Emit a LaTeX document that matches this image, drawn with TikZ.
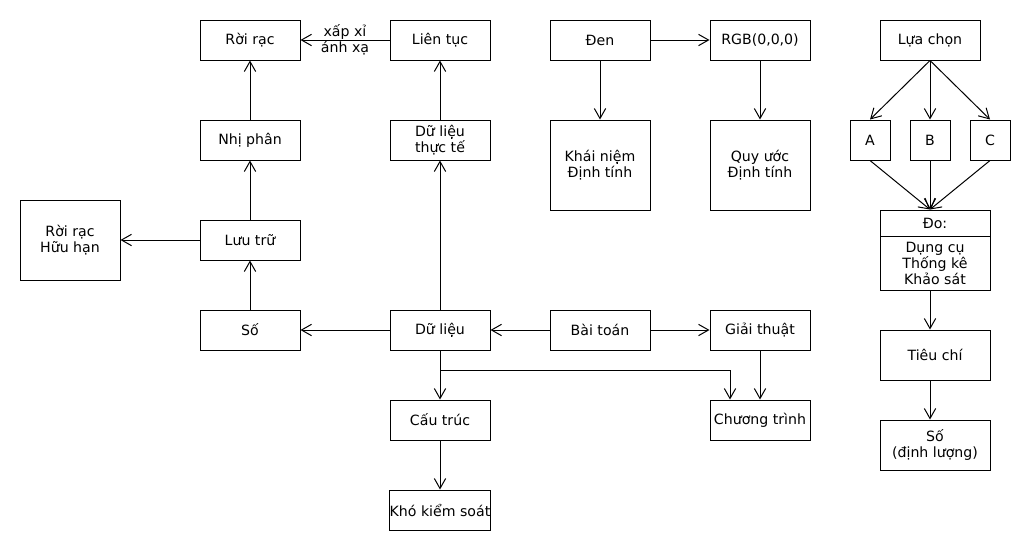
\documentclass[tikz,border=0pt]{standalone}
\usepackage{fontspec}
\setmainfont{DejaVu Sans}
\usetikzlibrary{arrows.meta}

\begin{document}
\begin{tikzpicture}[x=0.75pt, y=-0.75pt, line width=0.75pt,
    >={Straight Barb[length=7.5pt,width=8.5pt]},
    font=\fontsize{10.6}{12}\selectfont,
    box/.style={draw, minimum width=75pt, minimum height=30pt, inner sep=0pt, align=center}]
    \useasboundingbox (0,0) rectangle (1030,550);
    \node[box] (roi_rac) at (250,40) {Rời rạc};
    \node[box] (lien_tuc) at (440,40) {Liên tục};
    \node[box] (den) at (600,40) {Đen};
    \node[box] (rgb) at (760,40) {RGB(0,0,0)};
    \node[box] (lua_chon) at (930,40) {Lựa chọn};
    \node[box] (nhi_phan) at (250,140) {Nhị phân};
    \node[box] (du_lieu_tt) at (440,140) {Dữ liệu\\thực tế};
    \node[box, minimum height=67.5pt] (khai_niem) at (600,165) {Khái niệm\\Định tính};
    \node[box, minimum height=67.5pt] (quy_uoc) at (760,165) {Quy ước\\Định tính};
    \node[box, minimum width=30pt] (a) at (870,140) {A};
    \node[box, minimum width=30pt] (b) at (930,140) {B};
    \node[box, minimum width=30pt] (c) at (990,140) {C};
    \node[box, minimum height=60pt] (huu_han) at (70,240) {Rời rạc\\Hữu hạn};
    \node[box] (luu_tru) at (250,240) {Lưu trữ};
    \node[box, minimum width=82.5pt, minimum height=19.5pt] (do_head) at (935,223) {Đo:};
    \node[box, minimum width=82.5pt, minimum height=40.5pt] (do_body) at (935,263) {Dụng cụ\\Thống kê\\Khảo sát};
    \node[box] (so) at (250,330) {Số};
    \node[box] (du_lieu) at (440,330) {Dữ liệu};
    \node[box] (bai_toan) at (600,330) {Bài toán};
    \node[box] (giai_thuat) at (760,330) {Giải thuật};
    \node[box, minimum width=82.5pt, minimum height=37.5pt] (tieu_chi) at (935,355) {Tiêu chí};
    \node[box] (cau_truc) at (440,420) {Cấu trúc};
    \node[box] (chuong_trinh) at (760,420) {Chương trình};
    \node[box, minimum width=82.5pt, minimum height=37.5pt] (so_dl) at (935,445) {Số\\(định lượng)};
    \node[box] (kho) at (440,510) {Khó kiểm soát};

    % left part
    \draw[->] (lien_tuc) -- node[align=center, font=\fontsize{10.6}{10}\selectfont] (xap_xi) {xấp xỉ\\ánh xạ} (roi_rac);
    \draw[->] (nhi_phan) -- (roi_rac);
    \draw[->] (luu_tru) -- (nhi_phan);
    \draw[->] (so) -- (luu_tru);
    \draw[->] (luu_tru) -- (huu_han);
    \draw[->] (du_lieu) -- (so);
    \draw[->] (du_lieu) -- (du_lieu_tt);
    \draw[->] (du_lieu_tt) -- (lien_tuc);
    \draw[->] (bai_toan) -- (du_lieu);
    \draw[->] (bai_toan) -- (giai_thuat);
    \draw[->] (du_lieu) -- (cau_truc);
    \draw[->] (cau_truc) -- (kho);
    \coordinate (nhanh) at (440,370);
    \draw[->] (du_lieu.south) -- (nhanh) -| ([xshift=-22.5pt]chuong_trinh.north);
    \draw[->] (giai_thuat) -- (chuong_trinh);

    % right part
    \draw[->] (den) -- (rgb);
    \draw[->] (den) -- (khai_niem);
    \draw[->] (rgb) -- (quy_uoc);
    \coordinate (do_vao) at (b |- do_head.north);
    \foreach \n in {a,b,c} {
        \draw[->] (lua_chon.south) -- (\n.north);
        \draw[->] (\n.south) -- (do_vao);
    }
    \draw[->] (b |- do_body.south) -- (b |- tieu_chi.north);
    \draw[->] (b |- tieu_chi.south) -- (b |- so_dl.north);
\end{tikzpicture}
\end{document}
